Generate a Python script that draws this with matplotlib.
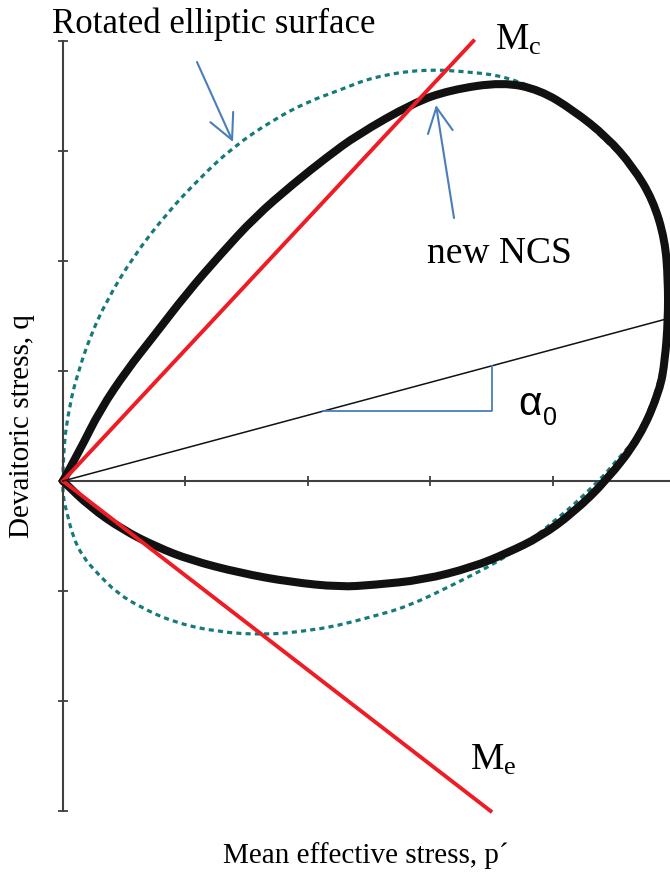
import matplotlib
matplotlib.use("Agg")
import matplotlib.pyplot as plt
from matplotlib.path import Path
from matplotlib.patches import PathPatch

# === Values (x in p' tick units, y in q tick units) ===
ncs_p = [0, 0.139, 0.302, 0.522, 0.735, 1.012, 1.282, 1.567, 1.878, 2.155, 2.400, 2.857,
         3.159, 3.592, 3.894, 4.163, 4.441, 4.653, 4.816, 4.914, 4.939, 4.939, 4.914,
         4.873, 4.710, 4.441, 4.163, 3.894, 3.624, 3.347, 2.939, 2.531, 2.261, 1.853,
         1.445, 1.037, 0.767, 0.490, 0.220, 0]
ncs_q = [0, 0.282, 0.645, 1.009, 1.309, 1.709, 2.055, 2.400, 2.700, 2.945, 3.145, 3.436,
         3.555, 3.627, 3.555, 3.373, 3.127, 2.855, 2.555, 2.191, 1.827, 1.464, 1.100,
         0.827, 0.400, 0.009, -0.291, -0.509, -0.655, -0.782, -0.900, -0.945, -0.964,
         -0.918, -0.836, -0.718, -0.600, -0.445, -0.236, 0]

ell_p = [0, 0, 0.057, 0.122, 0.220, 0.359, 0.571, 0.849, 1.118, 1.388, 1.714, 1.992,
         2.261, 2.531, 2.939, 3.347, 3.624, 3.951, 4.220, 4.490, 4.710, 4.873, 4.931,
         4.947, 4.931, 4.890, 4.808, 4.669, 4.522, 4.384, 4.033, 3.624, 3.216, 2.808,
         2.482, 2.261, 2.041, 1.665, 1.257, 0.898, 0.629, 0.441, 0.278, 0.163, 0.082,
         0.033, 0, 0]
ell_q = [0, 0.282, 0.709, 0.982, 1.309, 1.645, 2.036, 2.436, 2.755, 3.036, 3.282, 3.445,
         3.555, 3.673, 3.745, 3.718, 3.673, 3.527, 3.309, 3.036, 2.764, 2.436, 2.100,
         1.736, 1.373, 1.009, 0.691, 0.373, 0.191, 0.009, -0.355, -0.691, -0.927, -1.145,
         -1.245, -1.309, -1.355, -1.400, -1.373, -1.282, -1.145, -1.018, -0.836, -0.691,
         -0.509, -0.291, -0.145, 0]

mc_p, mc_q = [0, 3.35], [0, 4.0]
me_p, me_q = [0, 3.49], [0, -3.0]
alpha_p, alpha_q = [0, 4.955], [0, 1.482]
tri_p, tri_q = [2.12, 3.50, 3.50], [0.636, 0.636, 1.045]

x_ticks = [1, 2, 3, 4]
y_ticks = [-3, -2, -1, 0, 1, 2, 3, 4]

RED = "#ee1c24"
TEAL = "#177a7a"
BLUE = "#4a7ebb"
AXIS = "#404040"


# smooth drawing of digitised outline: quadratic Bezier pieces through the read points
def smooth_path(xs, ys):
    pts = list(zip(xs, ys))
    verts = [pts[0]]
    codes = [Path.MOVETO]
    for i in range(1, len(pts) - 1):
        mid = ((pts[i][0] + pts[i + 1][0]) / 2, (pts[i][1] + pts[i + 1][1]) / 2)
        verts += [pts[i], mid]
        codes += [Path.CURVE3, Path.CURVE3]
    verts.append(pts[-1])
    codes.append(Path.LINETO)
    return Path(verts, codes)


plt.rcParams["font.family"] = ["Liberation Serif", "DejaVu Serif"]
plt.rcParams["mathtext.fontset"] = "custom"
plt.rcParams["mathtext.rm"] = "Liberation Serif"

fig = plt.figure(figsize=(6.7, 8.75), dpi=100)
ax = fig.add_axes([0, 0, 1, 1])
ax.set_xlim(-0.514, 4.955)
ax.set_ylim(-3.582, 4.373)

# === Axes through the origin ===
for side in ["top", "right"]:
    ax.spines[side].set_visible(False)
ax.spines["left"].set_position(("data", 0))
ax.spines["bottom"].set_position(("data", 0))
ax.spines["left"].set_bounds(-3, 4)
ax.spines["bottom"].set_bounds(0, 4.955)
for side in ["left", "bottom"]:
    ax.spines[side].set_color(AXIS)
    ax.spines[side].set_linewidth(1.5)
ax.set_xticks(x_ticks)
ax.set_yticks(y_ticks)
ax.tick_params(direction="inout", length=7, width=1.3, color=AXIS,
               labelbottom=False, labelleft=False)
ax.patch.set_alpha(0)

# === Curves ===
ax.add_patch(PathPatch(smooth_path(ell_p, ell_q), fill=False, edgecolor=TEAL, lw=2.3,
                       linestyle=(0, (1.6, 1.3)), zorder=2))
ax.add_patch(PathPatch(smooth_path(ncs_p, ncs_q), fill=False, edgecolor="#111111", lw=5.8,
                       joinstyle="round", capstyle="round", zorder=3))
ax.plot(mc_p, mc_q, color=RED, lw=2.8, zorder=4)
ax.plot(me_p, me_q, color=RED, lw=2.8, zorder=4)
ax.plot(alpha_p, alpha_q, color="#111111", lw=1.1, zorder=4)
ax.plot(tri_p, tri_q, color=BLUE, lw=1.3, zorder=4)

# === Annotations ===
arrow = dict(arrowstyle="->,head_length=1.8,head_width=0.9", color=BLUE, lw=1.5,
             shrinkA=0, shrinkB=0)
ax.annotate("", xy=(1.388, 3.082), xytext=(1.094, 3.809), arrowprops=arrow)
ax.annotate("", xy=(3.045, 3.418), xytext=(3.192, 2.391), arrowprops=arrow)

ax.text(1.233, 4.073, "Rotated elliptic surface", fontsize=25, ha="center", va="baseline")
ax.text(3.559, 1.982, "new NCS", fontsize=27, ha="center", va="baseline")
ax.text(3.527, 3.918, r"$\mathrm{M_c}$", fontsize=27, ha="left", va="baseline")
ax.text(3.322, -2.627, r"$\mathrm{M_e}$", fontsize=27, ha="left", va="baseline")
ax.text(3.714, 0.60, "\u03b1", fontsize=29, family="Liberation Sans", ha="left", va="baseline")
ax.text(3.92, 0.509, "0", fontsize=18, family="Liberation Sans", ha="left", va="baseline")

ax.text(-0.335, 0.5, "Devaitoric stress, q", fontsize=21, rotation=90,
        ha="center", va="center")
ax.text(2.473, -3.473, "Mean effective stress, p\u00b4", fontsize=21,
        ha="center", va="baseline")

fig.savefig("out.png", dpi=100)
